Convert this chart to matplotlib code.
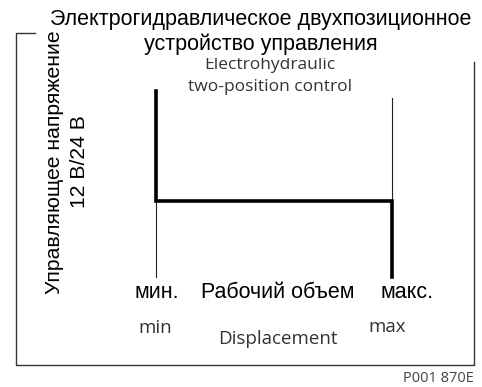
import matplotlib
matplotlib.use("Agg")
import matplotlib.pyplot as plt
from matplotlib.lines import Line2D

# Data: two-position control characteristic (schematic)
displacement = [0.0, 0.0, 1.0, 1.0]          # min -> max
control_level = [1.0, 0.41, 0.41, 0.0]        # switching step
guide_x = [0.0, 1.0]
guide_top = [0.41, 0.965]
guide_bottom = [0.0, 0.41]

title_ru = "Электрогидравлическое двухпозиционное\nустройство управления"
title_en = "Electrohydraulic\ntwo-position control"
ylabel_ru = "Управляющее напряжение\n12 В/24 В"
xlabels_ru = ["мин.", "Рабочий объем", "макс."]
xlabels_en = ["min", "Displacement", "max"]
code = "P001 870E"

W, H = 482, 387
fig = plt.figure(figsize=(W / 100, H / 100), dpi=100)

def fx(px):
    return px / W

def fy(py):
    return 1 - py / H

# frame
frame_col = "#333333"
fig.add_artist(Line2D([fx(35), fx(16), fx(16), fx(474), fx(474)],
                      [fy(33), fy(33), fy(365), fy(365), fy(62)],
                      color=frame_col, lw=1.0, transform=fig.transFigure))

# chart axes
ax = fig.add_axes([fx(156), fy(277), fx(392) - fx(156), fy(91) - fy(277)])
ax.set_xlim(0, 1)
ax.set_ylim(0, 1)
ax.axis("off")
for x, y0, y1 in zip(guide_x, guide_bottom, guide_top):
    ax.plot([x, x], [y0, y1], color="#222222", lw=0.8, clip_on=False)
ax.plot(displacement, control_level, color="black", lw=2.6,
        solid_joinstyle="miter", clip_on=False)

en_font = "Open Sans"
ru_font = "Liberation Sans"
ru_size = 15.5
en_size = 13.5

fig.text(fx(270), fy(76), title_en, ha="center", va="center",
         fontsize=12.5, family=en_font, color="#333333", linespacing=1.5)
fig.text(fx(261), fy(32), title_ru, ha="center", va="center",
         fontsize=ru_size, family=ru_font, color="black", linespacing=1.22,
         bbox=dict(boxstyle="square,pad=0.15", facecolor="white", edgecolor="none"))

fig.text(fx(67), fy(162), ylabel_ru, ha="center", va="center", rotation=90,
         fontsize=15.2, family=ru_font, color="black", linespacing=1.35)

xr = [157, 278, 407]
for x, t in zip(xr, xlabels_ru):
    fig.text(fx(x), fy(293), t, ha="center", va="center",
             fontsize=ru_size, family=ru_font, color="black")
xe = [155, 278, 387]
ye = [328, 339, 327]
for x, y, t in zip(xe, ye, xlabels_en):
    fig.text(fx(x), fy(y), t, ha="center", va="center",
             fontsize=en_size, family=en_font, color="#333333")

fig.text(fx(474), fy(379), code, ha="right", va="center",
         fontsize=10.5, family=en_font, color="#444444")

fig.savefig("out.png", dpi=100)
